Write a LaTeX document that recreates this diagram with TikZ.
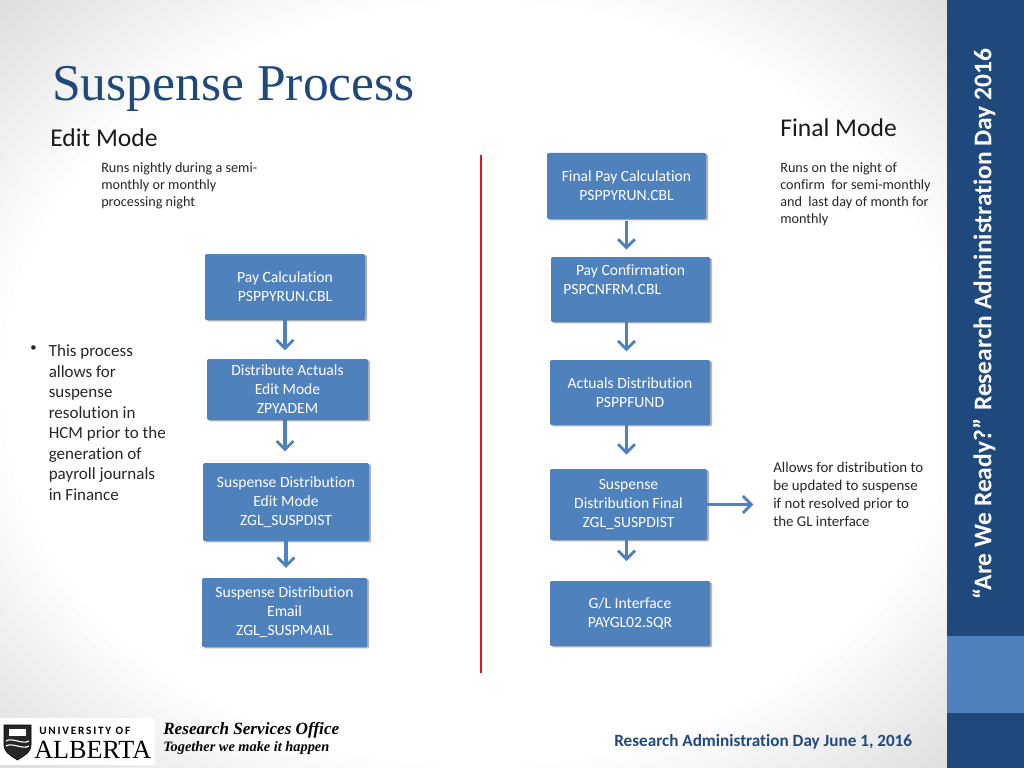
\documentclass[tikz,border=0pt]{standalone}
\usepackage{fontspec}
\setmainfont{Carlito}[Ligatures=CommonOff]
\newfontfamily\titlefont{Liberation Serif}
\usetikzlibrary{arrows.meta,shadows,shapes.geometric}
\definecolor{bandDark}{HTML}{1F497D}
\definecolor{bandLight}{HTML}{4F81BD}
\definecolor{boxBlue}{HTML}{4F81BD}
\definecolor{lineRed}{HTML}{E8141E}
\tikzset{
  flowbox/.style={draw=none, fill=boxBlue, rounded corners=1pt, text=white, align=center,
    font=\fontsize{11.1}{13.5}\selectfont, inner sep=0pt,
    drop shadow={shadow xshift=1.5pt, shadow yshift=-1pt, fill=black!50, opacity=.6}},
  flowarrow/.style={draw=boxBlue, line width=2.4pt, -{Straight Barb[length=6pt,width=12pt,line width=2pt]}},
  smalltext/.style={align=left, anchor=north west, inner sep=0pt, text=black!85, font=\fontsize{10.1}{12.1}\selectfont},
  headtext/.style={anchor=west, inner sep=0pt, text=black!90, font=\fontsize{18.2}{20}\selectfont},
  bodytext/.style={align=left, anchor=north west, inner sep=0pt, text=black!85, font=\fontsize{12.1}{14.6}\selectfont}
}
\begin{document}
\begin{tikzpicture}[x=0.025cm,y=-0.025cm]
        \useasboundingbox (0,0) rectangle (1024,768);
        %%%%%%%%%% Background %%%%%%%%%%
        \begin{scope}
        \clip (0,0) rectangle (947,768);
        \foreach \k in {1.00,1.025,...,1.40}
            \fill[black, opacity=.0095, even odd rule] (-20,-20) rectangle (967,788) (480,384) ellipse [x radius=480*\k, y radius=384*\k];
        \end{scope}
        \fill[bandDark] (947,0) rectangle (1024,768);
        \fill[bandLight] (947,636) rectangle (1024,713);
        \node[rotate=90, inner sep=0pt, text=white, font=\fontsize{18.1}{20}\selectfont\bfseries] (sideTitle) at (984,324) {“Are We Ready?” Research Administration Day 2016};

        %%%%%%%%%% Headings %%%%%%%%%%
        \node[anchor=west, inner sep=0pt, text=bandDark, font=\fontsize{36.7}{40}\selectfont\titlefont] (title) at (52,89) {Suspense Process};
        \node[headtext] (editHead) at (50,138) {Edit Mode};
        \node[headtext] (finalHead) at (780,128) {Final Mode};
        \node[smalltext] (editNote) at (101,162.5) {Runs nightly during a semi-\\monthly or monthly\\processing night};
        \node[smalltext] (finalNote) at (780,162.5) {Runs on the night of\\confirm\ \ for semi-monthly\\and\ \ last day of month for\\monthly};
        \node[smalltext, font=\fontsize{10.6}{12.8}\selectfont] (suspNote) at (773,462) {Allows for distribution to\\be updated to suspense\\if not resolved prior to\\the GL interface};
        \node[bodytext, font=\fontsize{9}{14.6}\selectfont] (bullet) at (30,345) {•};
        \node[bodytext] (process) at (48.5,344.5) {This process\\allows for\\suspense\\resolution in\\HCM prior to the\\generation of\\payroll journals\\in Finance};

        %%%%%%%%%% Edit Mode %%%%%%%%%%
        \node[flowbox, minimum width=160*0.025cm, minimum height=66*0.025cm] (payCalc) at (285,287) {Pay Calculation\\PSPPYRUN.CBL};
        \node[flowbox, minimum width=161*0.025cm, minimum height=61*0.025cm] (distActuals) at (287.5,389.5) {Distribute Actuals\\Edit Mode\\ZPYADEM};
        \node[flowbox, minimum width=166*0.025cm, minimum height=78*0.025cm] (suspEdit) at (286,502) {Suspense Distribution\\Edit Mode\\ZGL\_SUSPDIST};
        \node[flowbox, minimum width=165*0.025cm, minimum height=69*0.025cm] (suspMail) at (284.5,612.5) {Suspense Distribution\\Email\\ZGL\_SUSPMAIL};

        %%%%%%%%%% Final Mode %%%%%%%%%%
        \node[flowbox, minimum width=159*0.025cm, minimum height=66*0.025cm] (finalCalc) at (626.5,186) {Final Pay Calculation\\PSPPYRUN.CBL};
        \node[flowbox, align=left, minimum width=159*0.025cm, minimum height=65*0.025cm] (payConf) at (630.5,289.5) {\hspace*{9pt}Pay Confirmation\hspace*{9pt}\\PSPCNFRM.CBL\\ };
        \node[flowbox, minimum width=160*0.025cm, minimum height=65*0.025cm] (actDist) at (630,392.5) {Actuals Distribution\\PSPPFUND};
        \node[flowbox, minimum width=157*0.025cm, minimum height=71*0.025cm] (suspFinal) at (628.5,504.5) {Suspense\\Distribution Final\\ZGL\_SUSPDIST};
        \node[flowbox, minimum width=160*0.025cm, minimum height=65*0.025cm] (glIface) at (630,613.5) {G/L Interface\\PAYGL02.SQR};

        %%%%%%%%%% Arrows %%%%%%%%%%
        \draw[flowarrow, shorten >=6pt] (payCalc.south) -- (payCalc.south |- distActuals.north);
        \draw[flowarrow, shorten >=8pt] (distActuals.south -| payCalc.south) -- (payCalc.south |- suspEdit.north);
        \draw[flowarrow, shorten >=7pt] (suspEdit.south) -- (suspEdit.south |- suspMail.north);
        \draw[flowarrow, shorten >=5pt, shorten <=1pt] (finalCalc.south) -- (finalCalc.south |- payConf.north);
        \draw[flowarrow, shorten >=6pt] (payConf.south -| finalCalc.south) -- (finalCalc.south |- actDist.north);
        \draw[flowarrow, shorten >=10pt] (actDist.south -| finalCalc.south) -- (finalCalc.south |- suspFinal.north);
        \draw[flowarrow, shorten >=14pt] (suspFinal.south -| finalCalc.south) -- (finalCalc.south |- glIface.north);
        \draw[flowarrow, shorten >=14pt] (suspFinal.east) -- (suspFinal.east -| suspNote.west);

        %%%%%%%%%% Divider %%%%%%%%%%
        \coordinate (dividerTop) at (481,155);
        \coordinate (dividerEnd) at (481,673);
        \draw[lineRed, line width=2pt] (dividerTop) -- (dividerEnd);

        %%%%%%%%%% Footer %%%%%%%%%%
        \fill[white] (0,718) rectangle (155,765);
        \node[anchor=west, inner sep=0pt, font=\fontsize{8}{9}\selectfont\bfseries\addfontfeature{LetterSpace=16}] (logoTop) at (39,731) {UNIVERSITY OF};
        \node[anchor=west, inner sep=0pt, font=\fontsize{18.6}{20}\selectfont\titlefont] (logoName) at (34,750) {ALBERTA};
        \filldraw[fill=black!85, draw=black] (4,725) -- (31,725) -- (31,745) .. controls (31,753) and (22,757) .. (17.5,760) .. controls (13,757) and (4,753) .. (4,745) -- cycle;
        \fill[white] (9,729) rectangle (26,736);
        \draw[white, line width=.8pt] (6,741) .. controls (12,737) and (23,745) .. (29,741);
        \draw[white, line width=.8pt] (6,746) .. controls (12,742) and (23,750) .. (29,746);
        \node[anchor=west, inner sep=0pt, font=\fontsize{12.2}{13}\selectfont\titlefont\bfseries\itshape] (office) at (163,730) {Research Services Office};
        \node[anchor=west, inner sep=0pt, font=\fontsize{10.2}{11}\selectfont\titlefont\bfseries\itshape] (motto) at (163,748.5) {Together we make it happen};
        \node[anchor=west, inner sep=0pt, text=bandDark, font=\fontsize{12.2}{13}\selectfont\bfseries] (footer) at (614,741.5) {Research Administration Day June 1, 2016};
    \end{tikzpicture}
\end{document}
